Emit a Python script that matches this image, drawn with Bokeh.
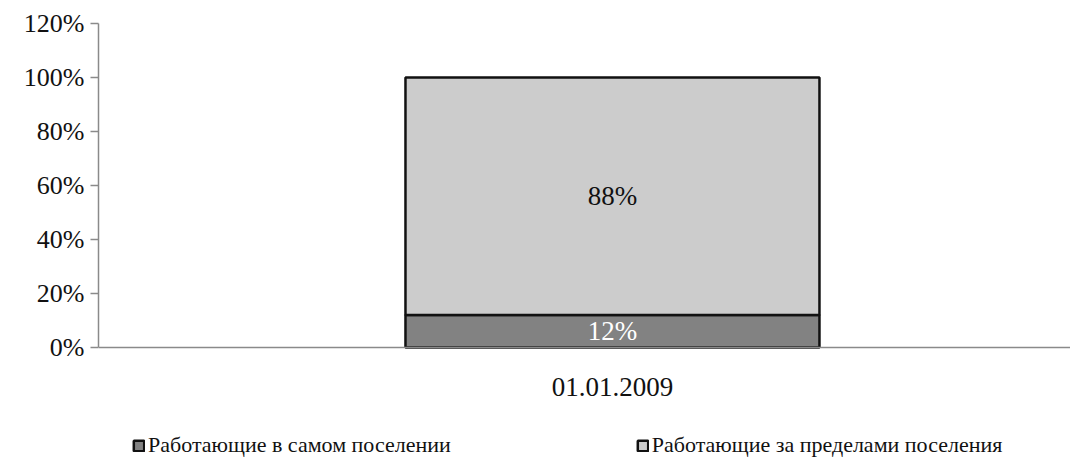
from bokeh.plotting import figure
from bokeh.models import ColumnDataSource, Range1d, FixedTicker, Legend, LegendItem, Span
from bokeh.core.properties import value
from bokeh.embed import file_html
from bokeh.resources import INLINE

# ---- data ----
categories = ["01.01.2009"]
series_names = ["Работающие в самом поселении", "Работающие за пределами поселения"]
inside = [12]
outside = [88]
y_ticks = [0, 20, 40, 60, 80, 100, 120]
y_tick_labels = ["0%", "20%", "40%", "60%", "80%", "100%", "120%"]

FONT = "Liberation Serif"
C_IN = "#828282"
C_OUT = "#cccccc"
AXIS_C = "#8a8a8a"

# frame spans down to the bottom so the legend and category label can live inside it
p = figure(width=1070, height=459, output_backend="svg", toolbar_location=None,
           x_range=Range1d(-0.9932, 0.8851), y_range=Range1d(-41.5, 120),
           x_axis_location=None,
           min_border_left=98, min_border_right=0, min_border_top=23, min_border_bottom=0)
p.outline_line_color = None
p.background_fill_color = "white"
p.border_fill_color = "white"
p.xgrid.visible = False
p.ygrid.visible = False

xs = list(range(len(categories)))
bottoms_in = [0 for _ in inside]
tops_in = [b + v for b, v in zip(bottoms_in, inside)]
tops_out = [t + v for t, v in zip(tops_in, outside)]

src = ColumnDataSource(dict(x=xs, b0=bottoms_in, t0=tops_in, t1=tops_out,
                            m0=[(b + t) / 2 for b, t in zip(bottoms_in, tops_in)],
                            m1=[(b + t) / 2 for b, t in zip(tops_in, tops_out)],
                            l0=[f"{v}%" for v in inside],
                            l1=[f"{v}%" for v in outside],
                            cat=categories))

# category axis baseline at 0
p.add_layout(Span(location=0, dimension="width", line_color=AXIS_C, line_width=1.5))

r_in = p.vbar(x="x", width=0.8, bottom="b0", top="t0", source=src,
              fill_color=C_IN, line_color="#111111", line_width=2.5)
r_out = p.vbar(x="x", width=0.8, bottom="t0", top="t1", source=src,
               fill_color=C_OUT, line_color="#111111", line_width=2.5)

p.text(x="x", y="m1", text="l1", source=src, text_align="center", text_baseline="middle",
       text_font=value(FONT), text_font_size="27px", text_color="#111111")
p.text(x="x", y="m0", text="l0", source=src, text_align="center", text_baseline="middle",
       text_font=value(FONT), text_font_size="27px", text_color="white")

# category label under the baseline
p.text(x="x", y="b0", text="cat", source=src, y_offset=40, text_align="center",
       text_baseline="middle", text_font=value(FONT), text_font_size="27px",
       text_color="#111111")

# y axis
yax = p.yaxis[0]
yax.ticker = FixedTicker(ticks=y_ticks)
yax.bounds = (y_ticks[0], y_ticks[-1])
yax.major_label_overrides = {t: l for t, l in zip(y_ticks, y_tick_labels)}
yax.minor_tick_line_color = None
yax.major_tick_out = 8
yax.major_tick_in = 0
yax.axis_line_color = AXIS_C
yax.major_tick_line_color = AXIS_C
yax.axis_line_width = 1.5
yax.major_tick_line_width = 1.5
yax.major_label_text_font = FONT
yax.major_label_text_font_size = "26px"
yax.major_label_text_color = "#111111"
yax.major_label_standoff = 6

# legend inside the (extended) frame, below the category label
legend = Legend(items=[LegendItem(label=series_names[0], renderers=[r_in]),
                       LegendItem(label=series_names[1], renderers=[r_out])],
                location=(34, 1), orientation="horizontal",
                glyph_width=13, glyph_height=13, label_standoff=3,
                spacing=185, padding=0, margin=0, border_line_color=None,
                background_fill_alpha=0, label_height=20)
legend.label_text_font = "'Liberation Serif', serif"
legend.label_text_font_size = "22px"
legend.label_text_color = "#111111"
p.add_layout(legend, "center")

open("out.html", "w").write(file_html(p, INLINE))
